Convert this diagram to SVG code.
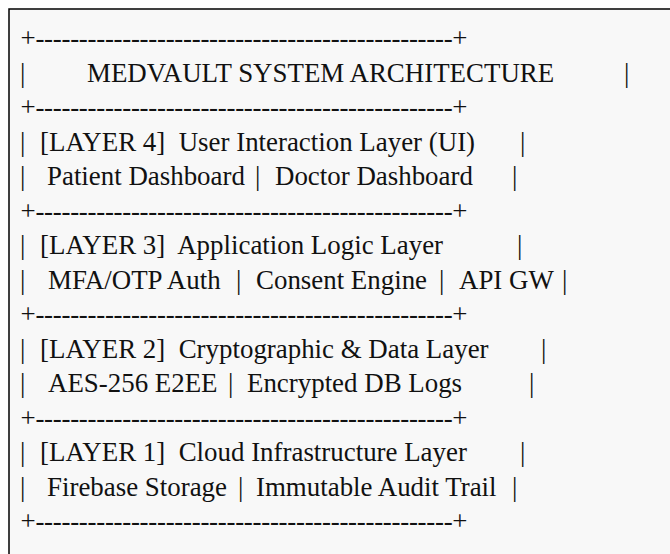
<svg xmlns="http://www.w3.org/2000/svg" width="670" height="554" viewBox="0 0 670 554">
<style>
text { font-family: "Liberation Serif", "Times New Roman", serif; font-size: 26.9px; fill: #111; white-space: pre; }
</style>
<rect x="0" y="0" width="670" height="554" fill="#ffffff"/>
<rect x="9" y="9" width="670" height="560" fill="#f8f8f8" stroke="#000" stroke-width="1.5"/>
<g id="connectors">
<text x="20.5" y="47.3" textLength="447" lengthAdjust="spacing">+------------------------------------------------+</text>
<text x="20.5" y="116.3" textLength="447" lengthAdjust="spacing">+------------------------------------------------+</text>
<text x="20.5" y="219.8" textLength="447" lengthAdjust="spacing">+------------------------------------------------+</text>
<text x="20.5" y="323.3" textLength="447" lengthAdjust="spacing">+------------------------------------------------+</text>
<text x="20.5" y="426.8" textLength="447" lengthAdjust="spacing">+------------------------------------------------+</text>
<text x="20.5" y="530.3" textLength="447" lengthAdjust="spacing">+------------------------------------------------+</text>
</g>
<g id="title">
<text x="20" y="81.8">|</text>
<text x="87" y="81.8">MEDVAULT SYSTEM ARCHITECTURE</text>
<text x="624" y="81.8">|</text>
</g>
<g id="layer4">
<text x="20" y="150.8">|</text>
<text x="40" y="150.8">[LAYER 4]  User Interaction Layer (UI)</text>
<text x="520" y="150.8">|</text>
<text x="20" y="185.3">|</text>
<text x="47" y="185.3">Patient Dashboard</text>
<text x="255" y="185.3">|</text>
<text x="275" y="185.3">Doctor Dashboard</text>
<text x="512" y="185.3">|</text>
</g>
<g id="layer3">
<text x="20" y="254.3">|</text>
<text x="40" y="254.3">[LAYER 3]  Application Logic Layer</text>
<text x="517" y="254.3">|</text>
<text x="20" y="288.8">|</text>
<text x="48" y="288.8">MFA/OTP Auth</text>
<text x="236" y="288.8">|</text>
<text x="256" y="288.8">Consent Engine</text>
<text x="439" y="288.8">|</text>
<text x="459" y="288.8">API GW</text>
<text x="562" y="288.8">|</text>
</g>
<g id="layer2">
<text x="20" y="357.8">|</text>
<text x="40" y="357.8">[LAYER 2]  Cryptographic &amp; Data Layer</text>
<text x="541" y="357.8">|</text>
<text x="20" y="392.3">|</text>
<text x="48" y="392.3">AES-256 E2EE</text>
<text x="228" y="392.3">|</text>
<text x="247" y="392.3">Encrypted DB Logs</text>
<text x="529" y="392.3">|</text>
</g>
<g id="layer1">
<text x="20" y="461.3">|</text>
<text x="40" y="461.3">[LAYER 1]  Cloud Infrastructure Layer</text>
<text x="520" y="461.3">|</text>
<text x="20" y="495.8">|</text>
<text x="47" y="495.8">Firebase Storage</text>
<text x="238" y="495.8">|</text>
<text x="256" y="495.8">Immutable Audit Trail</text>
<text x="512" y="495.8">|</text>
</g>
</svg>
